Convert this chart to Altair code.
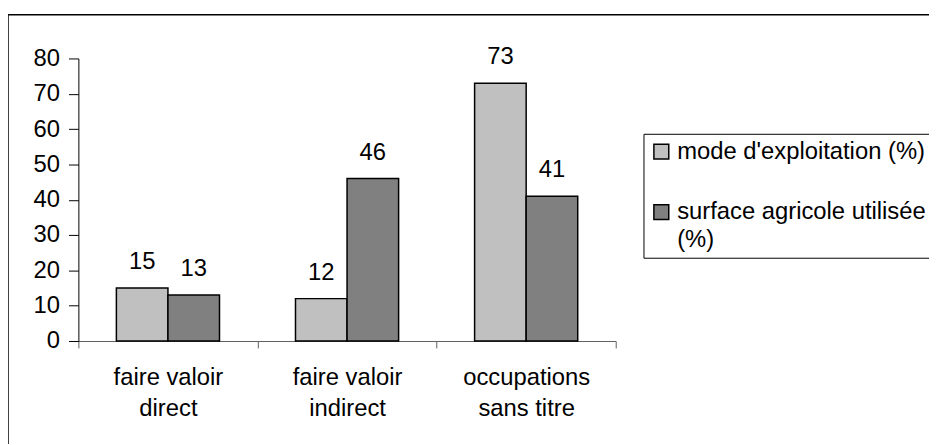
import altair as alt
import pandas as pd

categories = ["faire valoir direct", "faire valoir indirect", "occupations sans titre"]
category_lines = [["faire valoir", "direct"], ["faire valoir", "indirect"], ["occupations", "sans titre"]]
series = ["mode d'exploitation (%)", "surface agricole utilisée (%)"]
series_lines = {"surface agricole utilisée (%)": ["surface agricole utilisée", "(%)"]}
mode_values = [15, 12, 73]
surface_values = [13, 46, 41]
colors = ["#C0C0C0", "#808080"]
y_ticks = [0, 10, 20, 30, 40, 50, 60, 70, 80]

rows = []
for i, c in enumerate(categories):
    rows.append({"cat": c, "series": series[0], "value": mode_values[i]})
    rows.append({"cat": c, "series": series[1], "value": surface_values[i]})
df = pd.DataFrame(rows)


def arr(lines):
    return "[" + ",".join("'" + s + "'" for s in lines) + "]"


x_label_expr = ""
for c, lines in zip(categories, category_lines):
    x_label_expr += "datum.value == '" + c + "' ? " + arr(lines) + " : "
x_label_expr += "''"

legend_label_expr = ""
for k, lines in series_lines.items():
    legend_label_expr += "datum.value == '" + k + "' ? " + arr(lines) + " : "
legend_label_expr += "datum.label"

FONT = "Liberation Sans"
FS = 24

x_enc = alt.X(
    "cat:N",
    sort=categories,
    scale=alt.Scale(paddingInner=0, paddingOuter=0),
    axis=alt.Axis(
        title=None,
        labelAngle=0,
        tickBand="extent",
        labelExpr=x_label_expr,
        labelLineHeight=31,
        labelFontSize=FS,
        labelFont=FONT,
        labelColor="black",
        domainColor="#606060",
        tickColor="#606060",
        tickSize=7,
        labelPadding=18,
        labelBaseline="top",
    ),
)
xoff_enc = alt.XOffset(
    "series:N", sort=series, scale=alt.Scale(paddingInner=0, paddingOuter=0.737)
)
y_enc = alt.Y(
    "value:Q",
    scale=alt.Scale(domain=[0, 80], nice=False),
    axis=alt.Axis(
        values=y_ticks,
        title=None,
        grid=False,
        domainColor="black",
        tickColor="black",
        tickSize=10,
        labelPadding=9,
        labelFontSize=FS,
        labelFont=FONT,
        labelColor="black",
    ),
)

base = alt.Chart(df)

bars = base.mark_bar(stroke="black", strokeWidth=1.5, opacity=1).encode(
    x=x_enc,
    xOffset=xoff_enc,
    y=y_enc,
    color=alt.Color(
        "series:N",
        sort=series,
        scale=alt.Scale(domain=series, range=colors),
        legend=alt.Legend(
            title=None,
            orient="none",
            legendX=570,
            legendY=76,
            direction="vertical",
            symbolType="square",
            symbolSize=225,
            symbolStrokeColor="black",
            symbolStrokeWidth=1.5,
            symbolOpacity=1,
            labelFontSize=FS,
            labelFont=FONT,
            labelColor="black",
            labelExpr=legend_label_expr,
            labelLimit=400,
            labelOffset=4,
            strokeColor="black",
            fillColor="white",
            padding=6,
            rowPadding=37,
        ),
    ),
)

labels = base.mark_text(
    dy=-19, baseline="alphabetic", fontSize=FS, font=FONT, color="black"
).encode(x=x_enc, xOffset=xoff_enc, y=y_enc, text="value:Q")

frame = (
    alt.Chart(alt.Data(values=[{}]))
    .mark_rect(filled=False, stroke="black", strokeWidth=1.5)
    .encode(
        x=alt.value(-71), x2=alt.value(1000), y=alt.value(-44), y2=alt.value(700)
    )
)

chart = (
    alt.layer(frame, bars, labels)
    .properties(
        width=542,
        height=285,
        autosize=alt.AutoSizeParams(type="none"),
        padding={"left": 71, "top": 49, "right": 316, "bottom": 102},
        background="white",
    )
    .configure(style={"guide-label": {"lineHeight": 28}})
    .configure_view(stroke=None)
)

chart.save("out.html", embed_options={"renderer": "svg", "actions": False})
